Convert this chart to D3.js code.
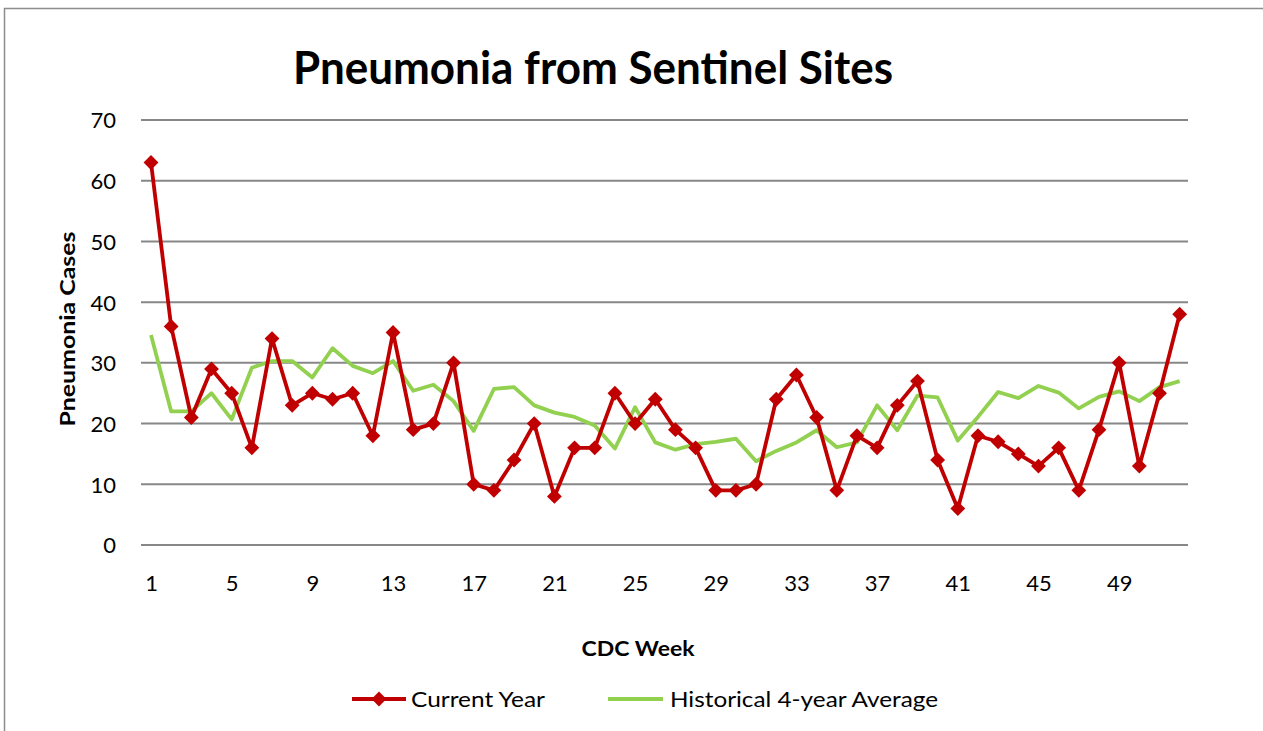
<!DOCTYPE html>
<html>
<head>
<meta charset="utf-8">
<script src="https://cdn.jsdelivr.net/npm/d3@7"></script>
<style>
  body { margin: 0; background: #fff; }
  svg { display: block; }
  text { font-family: Lato, "Open Sans", "Liberation Sans", sans-serif; fill: #000; }
</style>
</head>
<body>
<svg id="chart" width="1263" height="731"></svg>
<script>
const weeks = d3.range(1, 53);
const currentYear = [63,36,21,29,25,16,34,23,25,24,25,18,35,19,20,30,10,9,14,20,8,16,16,25,20,24,19,16,9,9,10,24,28,21,9,18,16,23,27,14,6,18,17,15,13,16,9,19,30,13,25,38];
const historicalAvg = [34.6,22,22,25,20.7,29.2,30.3,30.3,27.6,32.4,29.5,28.3,30.3,25.4,26.4,23.7,18.8,25.7,26,23,21.8,21.1,19.7,15.9,22.7,16.9,15.7,16.6,17,17.5,13.8,15.5,16.9,18.9,16.1,16.9,23,18.9,24.6,24.3,17.2,21.1,25.2,24.2,26.2,25.1,22.5,24.4,25.3,23.7,26,27];
const yTicks = [0,10,20,30,40,50,60,70];
const xTicks = [1,5,9,13,17,21,25,29,33,37,41,45,49];
const seriesNames = ["Current Year", "Historical 4-year Average"];
const colors = ["#C00000", "#92D050"];

const svg = d3.select("#chart");

// outer frame
svg.append("path").attr("d", "M4.5,740 L4.5,8.5 L1270,8.5")
  .attr("fill", "none").attr("stroke", "#8c8c8c").attr("stroke-width", 1.5);

const plotLeft = 141, plotRight = 1188, plotTop = 120, plotBottom = 545;
const x = d3.scaleLinear().domain([1, 52]).range([151, 151 + 51 * 20.17]);
const y = d3.scaleLinear().domain([0, 70]).range([plotBottom, plotTop]);

// gridlines
svg.append("g").selectAll("line").data(yTicks).join("line")
  .attr("x1", plotLeft).attr("x2", plotRight)
  .attr("y1", d => y(d)).attr("y2", d => y(d))
  .attr("stroke", "#878787").attr("stroke-width", 2);

// y axis labels
const yAxis = d3.axisLeft(y).tickValues(yTicks).tickSize(0).tickPadding(0);
const gy = svg.append("g").attr("transform", "translate(116,0)").call(yAxis);
gy.select(".domain").remove();
gy.selectAll("text").style("font-size", "22px").attr("font-family", null).attr("dy", "0.36em");

// x axis labels
const xAxis = d3.axisBottom(x).tickValues(xTicks).tickSize(0).tickPadding(0).tickFormat(d3.format("d"));
const gx = svg.append("g").attr("transform", "translate(0,591)").call(xAxis);
gx.select(".domain").remove();
gx.selectAll("text").style("font-size", "22px").attr("font-family", null).attr("dy", "0");

// lines
const line = d3.line().x((d, i) => x(weeks[i])).y(d => y(d));
svg.append("path").datum(historicalAvg).attr("d", line)
  .attr("fill", "none").attr("stroke", colors[1]).attr("stroke-width", 3.8).attr("stroke-linejoin", "round");
svg.append("path").datum(currentYear).attr("d", line)
  .attr("fill", "none").attr("stroke", colors[0]).attr("stroke-width", 3.8).attr("stroke-linejoin", "round");

const diamond = d3.symbol().type(d3.symbolSquare).size(110);
svg.append("g").selectAll("path").data(currentYear).join("path")
  .attr("d", diamond)
  .attr("transform", (d, i) => `translate(${x(weeks[i])},${y(d)}) rotate(45)`)
  .attr("fill", colors[0]);

// title
svg.append("text").attr("x", 593).attr("y", 84).attr("text-anchor", "middle")
  .attr("textLength", 600).attr("lengthAdjust", "spacingAndGlyphs")
  .style("font-size", "45px").style("font-weight", "bold")
  .text("Pneumonia from Sentinel Sites");

// axis titles
svg.append("text").attr("transform", "translate(75,329) rotate(-90)").attr("text-anchor", "middle")
  .attr("textLength", 195).attr("lengthAdjust", "spacingAndGlyphs")
  .style("font-size", "21px").style("font-weight", "bold").text("Pneumonia Cases");
svg.append("text").attr("x", 638).attr("y", 656).attr("text-anchor", "middle")
  .attr("textLength", 113).attr("lengthAdjust", "spacingAndGlyphs")
  .style("font-size", "21px").style("font-weight", "bold").text("CDC Week");

// legend
const leg = svg.append("g");
leg.append("line").attr("x1", 352).attr("x2", 406).attr("y1", 699).attr("y2", 699)
  .attr("stroke", colors[0]).attr("stroke-width", 3.8);
leg.append("path").attr("d", diamond).attr("transform", "translate(379,699) rotate(45)").attr("fill", colors[0]);
leg.append("text").attr("x", 411).attr("y", 707).attr("textLength", 134).attr("lengthAdjust", "spacingAndGlyphs")
  .style("font-size", "22px").text(seriesNames[0]);
leg.append("line").attr("x1", 608).attr("x2", 663).attr("y1", 699).attr("y2", 699)
  .attr("stroke", colors[1]).attr("stroke-width", 3.8);
leg.append("text").attr("x", 670).attr("y", 707).attr("textLength", 268).attr("lengthAdjust", "spacingAndGlyphs")
  .style("font-size", "22px").text(seriesNames[1]);
</script>
</body>
</html>
